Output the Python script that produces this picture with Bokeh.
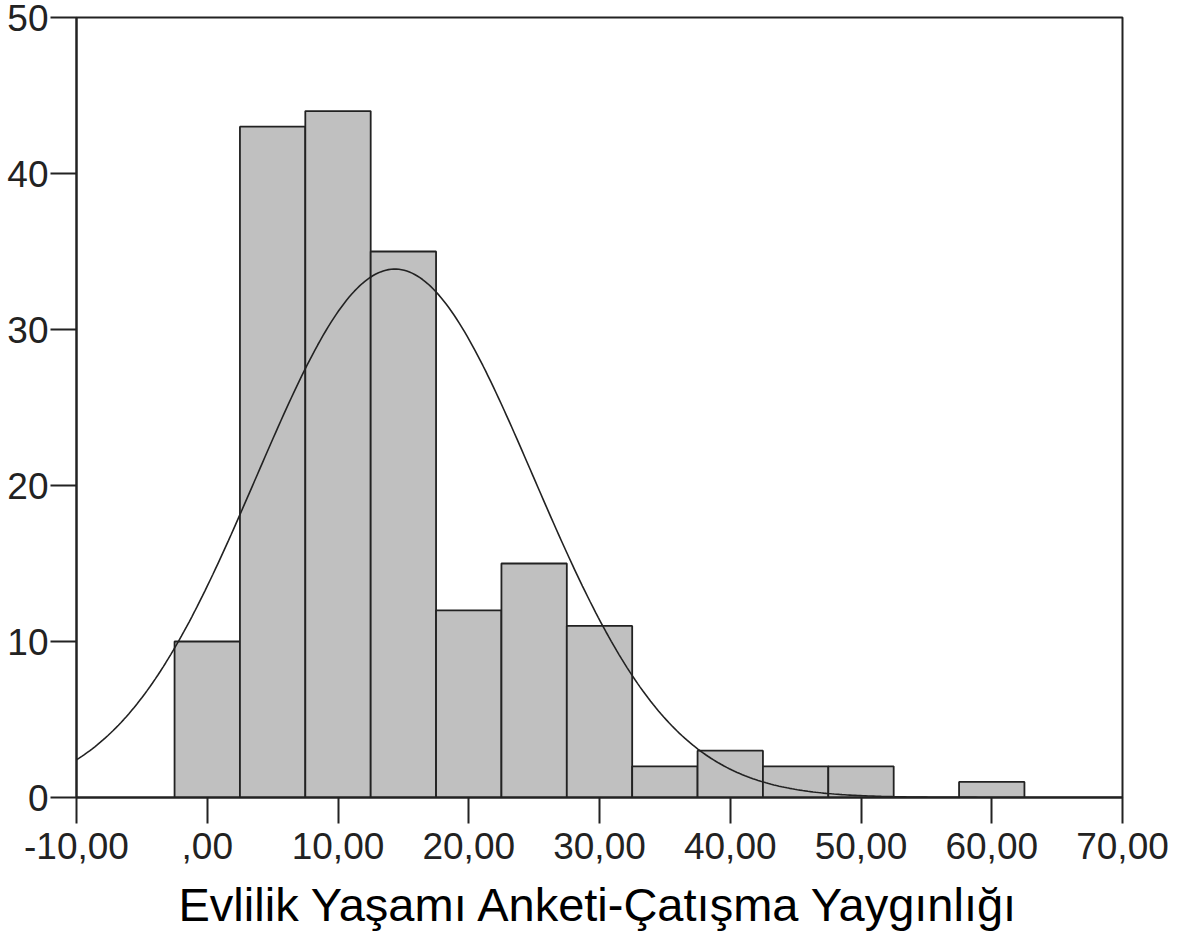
import numpy as np
from bokeh.plotting import figure
from bokeh.models import Range1d, FixedTicker
from bokeh.embed import file_html
from bokeh.resources import INLINE

# ---- data ----
bin_centers = [0, 5, 10, 15, 20, 25, 30, 35, 40, 45, 50, 55, 60]
counts = [10, 43, 44, 35, 12, 15, 11, 2, 3, 2, 2, 0, 1]
bin_width = 5.0
fit_mean = 14.35
fit_sd = 10.6
x_ticks = [-10, 0, 10, 20, 30, 40, 50, 60, 70]
x_tick_labels = ["-10,00", ",00", "10,00", "20,00", "30,00", "40,00", "50,00", "60,00", "70,00"]
y_ticks = [0, 10, 20, 30, 40, 50]
x_title = "Evlilik Yaşamı Anketi-Çatışma Yaygınlığı"

FONT = "Liberation Sans"

p = figure(width=1177, height=933, output_backend="svg", toolbar_location=None,
           x_range=Range1d(-10, 70), y_range=Range1d(0, 50),
           min_border_left=76, min_border_top=17, min_border_right=55, min_border_bottom=136)
p.background_fill_color = "white"
p.border_fill_color = "white"
p.outline_line_color = "#222222"
p.outline_line_width = 2
p.xgrid.visible = False
p.ygrid.visible = False

# bars (only non-empty bins)
lefts = [c - bin_width / 2 for c, n in zip(bin_centers, counts) if n > 0]
rights = [c + bin_width / 2 for c, n in zip(bin_centers, counts) if n > 0]
tops = [n for n in counts if n > 0]
p.quad(left=lefts, right=rights, top=tops, bottom=0,
       fill_color="#c0c0c0", line_color="#222222", line_width=1.8)

# fitted normal curve
N = sum(counts)
xs = np.linspace(-10, 70, 400)
ys = N * bin_width / (fit_sd * np.sqrt(2 * np.pi)) * np.exp(-0.5 * ((xs - fit_mean) / fit_sd) ** 2)
p.line(xs, ys, line_color="#222222", line_width=1.6)

for ax in (p.xaxis[0], p.yaxis[0]):
    ax.axis_line_color = "#222222"
    ax.axis_line_width = 2
    ax.major_tick_line_color = "#222222"
    ax.major_tick_line_width = 2
    ax.major_tick_out = 26
    ax.major_tick_in = 0
    ax.minor_tick_line_color = None
    ax.major_label_text_font = FONT
    ax.major_label_text_font_size = "37px"
    ax.major_label_text_color = "#222222"

p.xaxis.ticker = FixedTicker(ticks=x_ticks)
p.xaxis.major_label_overrides = {t: l for t, l in zip(x_ticks, x_tick_labels)}
p.xaxis.major_label_standoff = 9
p.yaxis.ticker = FixedTicker(ticks=y_ticks)
p.yaxis.major_label_standoff = 2

p.xaxis.axis_label = x_title
p.xaxis.axis_label_text_font = FONT
p.xaxis.axis_label_text_font_size = "47px"
p.xaxis.axis_label_text_font_style = "normal"
p.xaxis.axis_label_text_color = "black"
p.xaxis.axis_label_standoff = 16

open("out.html", "w").write(file_html(p, INLINE))
